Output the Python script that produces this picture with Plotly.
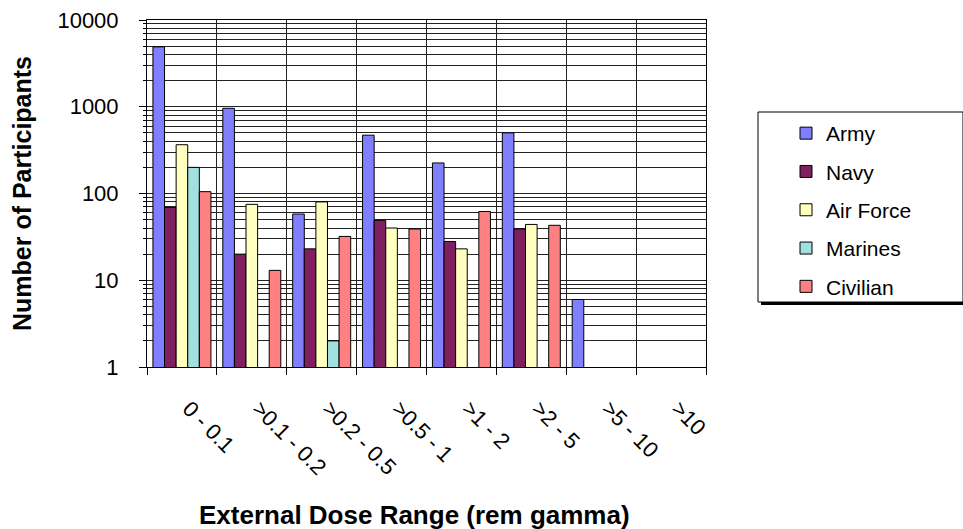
import plotly.graph_objects as go

categories = ["0 - 0.1", ">0.1 - 0.2", ">0.2 - 0.5", ">0.5 - 1", ">1 - 2", ">2 - 5", ">5 - 10", ">10"]
army = [4900, 960, 58, 470, 225, 500, 6, None]
navy = [69, 20, 23, 49, 28, 39, None, None]
air_force = [365, 75, 80, 40, 23, 44, None, None]
marines = [200, None, 2, None, None, None, None, None]
civilian = [105, 13, 32, 39, 62, 43, None, None]

series = [
    ("Army", army, "#8080FF"),
    ("Navy", navy, "#801F60"),
    ("Air Force", air_force, "#FFFFC0"),
    ("Marines", marines, "#A0E0E0"),
    ("Civilian", civilian, "#FF8080"),
]

font_family = "Liberation Sans, Arial, sans-serif"

L, R, T, B = 147, 706, 20, 367
W, H = 963, 529
def px(x):
    return (x - L) / (R - L)
def py(y):
    return (B - y) / (B - T)

fig = go.Figure()
for i, (name, vals, color) in enumerate(series):
    fig.add_trace(go.Bar(
        x=categories, y=vals, name=name, legendgroup=f"g{i}",
        marker=dict(color=color, line=dict(color="black", width=1)),
    ))

# legend frame with shadow
fig.add_shape(type="rect", xref="paper", yref="paper",
              x0=px(761), x1=px(966), y0=py(305), y1=py(115),
              fillcolor="black", line=dict(width=0), layer="above")
fig.add_shape(type="rect", xref="paper", yref="paper",
              x0=px(758), x1=px(963), y0=py(302), y1=py(112),
              fillcolor="white", line=dict(color="black", width=1), layer="above")

# x-axis title (slightly left of plot center, as in the original)
fig.add_annotation(text="<b>External Dose Range (rem gamma)</b>", xref="paper", yref="paper",
                   x=px(414), y=py(515), xanchor="center", yanchor="middle", showarrow=False,
                   font=dict(size=26, family=font_family, color="black"))

fig.update_layout(
    width=W, height=H,
    margin=dict(l=L, r=W - R, t=T, b=H - B, autoexpand=False),
    paper_bgcolor="white", plot_bgcolor="white",
    barmode="group", bargap=0.17, bargroupgap=0,
    font=dict(family=font_family, color="black"),
    showlegend=True,
    legend=dict(
        x=px(786), y=py(113), xanchor="left", yanchor="top",
        bgcolor="rgba(0,0,0,0)", borderwidth=0,
        font=dict(size=21, family=font_family),
        tracegroupgap=8, itemwidth=30,
    ),
)

fig.update_xaxes(
    type="category", tickson="boundaries", ticks="outside", ticklen=7,
    tickcolor="black", showgrid=True, gridcolor="#222", gridwidth=1,
    showline=True, linecolor="black", mirror=True,
    tickangle=45, ticklabelstandoff=19, ticklabelshift=7,
    tickfont=dict(size=22, family=font_family),
    automargin=False,
)

fig.update_yaxes(
    type="log", range=[0, 4], tickvals=[1, 10, 100, 1000, 10000],
    ticktext=["1", "10", "100", "1000", "10000"],
    ticks="outside", ticklen=7, tickcolor="black",
    showgrid=True, gridcolor="#222", gridwidth=1,
    minor=dict(dtick="D1", showgrid=True, gridcolor="#222", gridwidth=1, ticks="outside", ticklen=3, tickcolor="black"),
    showline=True, linecolor="black", mirror=True,
    ticklabelstandoff=16,
    tickfont=dict(size=22, family=font_family),
    title=dict(text="<b>Number of Participants</b>", font=dict(size=25, family=font_family), standoff=18),
    automargin=False,
)

fig.write_html("out.html", post_script="document.body.style.margin='0';",
               config={"displayModeBar": False})
